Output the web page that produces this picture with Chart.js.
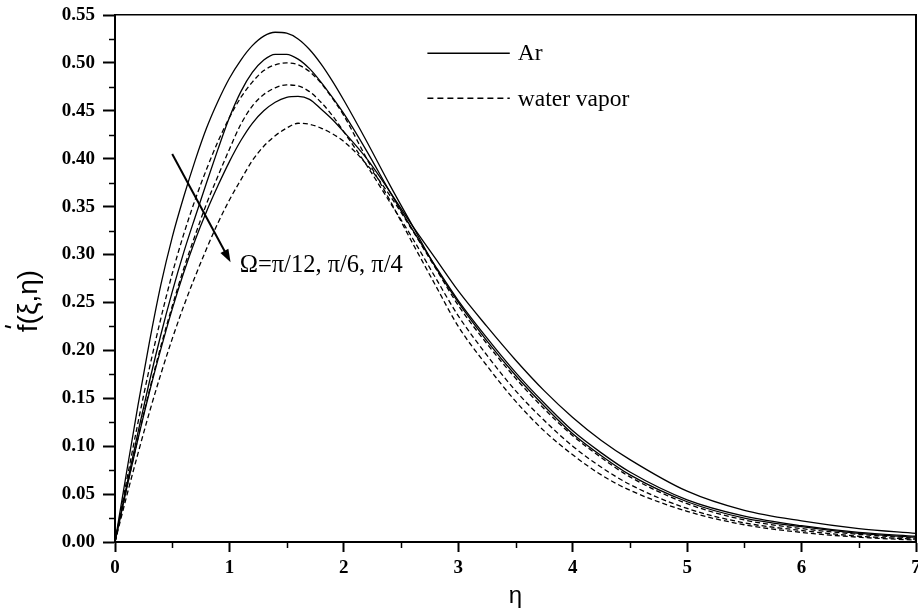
<!DOCTYPE html>
<html><head><meta charset="utf-8">
<script src="https://cdn.jsdelivr.net/npm/chart.js@4/dist/chart.umd.min.js"></script>
<style>html,body{margin:0;padding:0;background:#fff;}</style>
</head><body>
<canvas id="c" width="918" height="613"></canvas>
<script>
// η grid
const ETA = [0,0.1,0.2,0.3,0.4,0.5,0.6,0.7,0.8,0.9,1.0,1.1,1.2,1.3,1.4,1.5,1.6,1.7,1.8,1.9,2.0,2.2,2.4,2.6,2.8,3.0,3.25,3.5,3.75,4.0,4.25,4.5,5.0,5.5,6.0,6.5,7.0];
// Ar (solid)
const AR_PI12 = [0,.072,.142,.208,.268,.318,.360,.398,.432,.460,.484,.503,.518,.528,.532,.531,.525,.514,.499,.481,.461,.418,.373,.330,.287,.250,.210,.174,.142,.113,.090,.070,.042,.025,.016,.009,.005];
const AR_PI6  = [0,.058,.114,.167,.216,.261,.302,.339,.375,.410,.443,.470,.490,.503,.509,.509,.504,.494,.480,.464,.447,.408,.366,.326,.288,.252,.213,.177,.145,.116,.093,.073,.044,.027,.017,.010,.006];
const AR_PI4  = [0,.055,.107,.156,.201,.243,.281,.315,.345,.372,.397,.419,.437,.450,.459,.464,.465,.462,.452,.441,.428,.400,.366,.330,.296,.262,.225,.190,.158,.130,.106,.086,.053,.033,.022,.014,.009];
// water vapor (dashed)
const WV_PI12 = [0,.063,.124,.181,.233,.280,.321,.357,.389,.418,.443,.464,.480,.492,.498,.500,.498,.491,.479,.463,.445,.400,.357,.312,.268,.225,.184,.147,.116,.091,.070,.054,.032,.018,.010,.005,.002];
const WV_PI6  = [0,.055,.108,.158,.204,.246,.285,.320,.353,.382,.410,.436,.455,.467,.474,.477,.476,.470,.459,.445,.428,.393,.355,.317,.276,.236,.195,.158,.127,.100,.078,.060,.035,.020,.012,.006,.003];
const WV_PI4  = [0,.047,.092,.135,.175,.212,.246,.277,.306,.333,.357,.378,.398,.413,.424,.432,.437,.436,.432,.426,.418,.394,.362,.325,.286,.247,.207,.171,.139,.111,.088,.068,.040,.023,.014,.008,.004];
// ticks
const X_MINOR = [0.5,1.5,2.5,3.5,4.5,5.5,6.5];
const Y_MINOR = [0.025,0.075,0.125,0.175,0.225,0.275,0.325,0.375,0.425,0.475,0.525];
const LEGEND_LABELS = ['Ar','water vapor'];
const ANNOT_TEXT = 'Ω=π/12, π/6, π/4';
const Y_TITLE = ['f', '(ξ,η)'];
const X_TITLE = 'η';

const pts = arr => ETA.map((x,i)=>({x:x, y:arr[i]}));
const solid = arr => ({data:pts(arr), borderColor:'#000', borderWidth:1.3, pointRadius:0, fill:false, cubicInterpolationMode:'monotone'});
const dashed = arr => ({data:pts(arr), borderColor:'#000', borderWidth:1.3, pointRadius:0, fill:false, cubicInterpolationMode:'monotone', borderDash:[5,3]});

const serifBold = {family:'"Liberation Serif","Times New Roman",serif', weight:'bold', size:19};

const extras = {
  id:'extras',
  afterDraw(chart){
    const {ctx, chartArea:a, scales:{x,y}} = chart;
    ctx.save();
    ctx.strokeStyle='#000'; ctx.fillStyle='#000';
    // minor ticks
    ctx.lineWidth=1.5;
    for (const v of Y_MINOR){ const py=Math.round(y.getPixelForValue(v))+0.5; ctx.beginPath(); ctx.moveTo(a.left-6,py); ctx.lineTo(a.left,py); ctx.stroke(); }
    for (const v of X_MINOR){ const px=Math.round(x.getPixelForValue(v))+0.5; ctx.beginPath(); ctx.moveTo(px,a.bottom); ctx.lineTo(px,a.bottom+6); ctx.stroke(); }
    // legend
    ctx.lineWidth=1.5;
    const lx0=x.getPixelForValue(2.73), lx1=x.getPixelForValue(3.45), tx=x.getPixelForValue(3.52);
    const ly1=y.getPixelForValue(0.510), ly2=y.getPixelForValue(0.463);
    ctx.beginPath(); ctx.moveTo(lx0,ly1); ctx.lineTo(lx1,ly1); ctx.stroke();
    ctx.setLineDash([6,4]); ctx.beginPath(); ctx.moveTo(lx0,ly2); ctx.lineTo(lx1,ly2); ctx.stroke(); ctx.setLineDash([]);
    ctx.font='23.5px "Liberation Serif","Times New Roman",serif'; ctx.textBaseline='middle'; ctx.textAlign='left';
    ctx.fillText(LEGEND_LABELS[0], tx, ly1+1);
    ctx.fillText(LEGEND_LABELS[1], tx, ly2+1);
    // arrow
    const ax0=x.getPixelForValue(0.50), ay0=y.getPixelForValue(0.405);
    const ax1=x.getPixelForValue(1.01), ay1=y.getPixelForValue(0.292);
    const ang=Math.atan2(ay1-ay0, ax1-ax0);
    const hl=13, hw=4.5;
    ctx.lineWidth=2;
    ctx.beginPath(); ctx.moveTo(ax0,ay0); ctx.lineTo(ax1-Math.cos(ang)*hl*0.8, ay1-Math.sin(ang)*hl*0.8); ctx.stroke();
    ctx.beginPath();
    ctx.moveTo(ax1,ay1);
    ctx.lineTo(ax1-Math.cos(ang)*hl+Math.sin(ang)*hw, ay1-Math.sin(ang)*hl-Math.cos(ang)*hw);
    ctx.lineTo(ax1-Math.cos(ang)*hl-Math.sin(ang)*hw, ay1-Math.sin(ang)*hl+Math.cos(ang)*hw);
    ctx.closePath(); ctx.fill();
    // annotation text
    ctx.font='24.5px "Liberation Serif","Times New Roman",serif';
    ctx.fillText(ANNOT_TEXT, x.getPixelForValue(1.09), y.getPixelForValue(0.288));
    // y title
    ctx.save();
    ctx.translate(29, 301); ctx.rotate(-Math.PI/2);
    ctx.font='28px "Liberation Sans",Arial,sans-serif'; ctx.textBaseline='middle';
    const wF=ctx.measureText(Y_TITLE[0]).width, wR=ctx.measureText(Y_TITLE[1]).width;
    const sx=-(wF+wR)/2;
    ctx.fillText(Y_TITLE[0], sx, 0);
    ctx.fillText(Y_TITLE[1], sx+wF, 0);
    ctx.lineWidth=2;
    ctx.beginPath(); ctx.moveTo(sx+wF*0.8, -24); ctx.lineTo(sx+wF*0.6, -18); ctx.stroke();
    ctx.restore();
    ctx.restore();
  }
};

new Chart(document.getElementById('c'), {
  type:'line',
  data:{datasets:[solid(AR_PI12), solid(AR_PI6), solid(AR_PI4), dashed(WV_PI12), dashed(WV_PI6), dashed(WV_PI4)]},
  options:{
    responsive:false, animation:false, devicePixelRatio:1,
    layout:{padding:{left:0,right:2,top:15,bottom:0}},
    plugins:{legend:{display:false}, tooltip:{enabled:false}},
    scales:{
      x:{type:'linear', position:'bottom', min:0, max:7,
        ticks:{stepSize:1, font:serifBold, color:'#000', padding:5, maxRotation:0, autoSkip:false},
        grid:{drawOnChartArea:false, drawTicks:true, tickLength:10, tickWidth:2, tickColor:'#000'},
        border:{display:true, color:'#000', width:2},
        title:{display:true, text:X_TITLE, color:'#000', font:{family:'"Liberation Sans",Arial,sans-serif', size:24}, padding:{top:0,bottom:2}},
        afterFit:s=>{s.height=71; s.paddingLeft=0; s.paddingRight=0;}
      },
      y:{type:'linear', position:'left', min:0, max:0.55,
        ticks:{stepSize:0.05, font:serifBold, color:'#000', padding:8, callback:v=>Number(v).toFixed(2), autoSkip:false},
        grid:{drawOnChartArea:false, drawTicks:true, tickLength:12, tickWidth:2, tickColor:'#000'},
        border:{display:true, color:'#000', width:2},
        afterFit:s=>{s.width=115; s.paddingTop=0; s.paddingBottom=0;}
      },
      x2:{type:'linear', position:'top', min:0, max:7, ticks:{display:false}, grid:{display:false, drawTicks:false},
        border:{display:true, color:'#000', width:1.5}, afterFit:s=>{s.height=0;}},
      y2:{type:'linear', position:'right', min:0, max:0.55, ticks:{display:false}, grid:{display:false, drawTicks:false},
        border:{display:true, color:'#000', width:2}, afterFit:s=>{s.width=0;}}
    }
  },
  plugins:[extras]
});
</script>
</body></html>
